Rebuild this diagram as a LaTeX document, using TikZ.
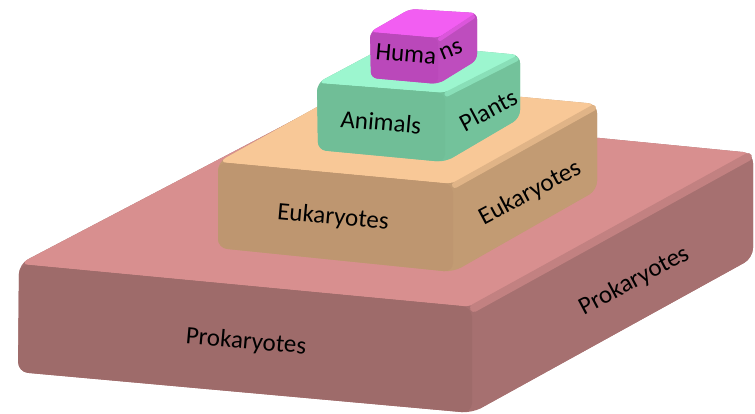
\documentclass[tikz,border=0pt]{standalone}
\usepackage{fontspec}
\setmainfont{Carlito}
\usepackage{xcolor}
\usepackage{tikz}

\definecolor{proFront}{HTML}{9E6B6A}
\definecolor{proTop}{HTML}{D88F8F}
\definecolor{proSide}{HTML}{A67070}
\definecolor{eukFront}{HTML}{BE9670}
\definecolor{eukTop}{HTML}{F8C897}
\definecolor{eukSide}{HTML}{C29B73}
\definecolor{aniFront}{HTML}{70BE97}
\definecolor{aniTop}{HTML}{9CF6CF}
\definecolor{aniSide}{HTML}{73C29B}
\definecolor{humFront}{HTML}{BA48BA}
\definecolor{humTop}{HTML}{F25EF2}
\definecolor{humSide}{HTML}{BE4DBE}

\begin{document}
\begin{tikzpicture}[x=1pt, y=-1pt,
    lbl/.style={font=\fontsize{25}{30}\selectfont, inner sep=0pt, text=black}]
            \useasboundingbox (0,0) rectangle (755,414);
            % Prokaryotes
            \fill[proSide, rounded corners=10pt] (18,372) -- (19,264) -- (313,110) -- (753,153) -- (753,258) -- (472,413) -- cycle;
            \fill[proTop, rounded corners=10pt] (19,264) -- (313,110) -- (753,153) -- (472,307) -- cycle;
            \fill[proSide, rounded corners=10pt] (472,307) -- (753,153) -- (753,258) -- (472,413) -- cycle;
            \draw[proTop!55!proSide, line width=8pt, line cap=round] (474,308) -- (748,157);
            \fill[proFront, rounded corners=10pt] (19,264) -- (472,307) -- (472,413) -- (18,372) -- cycle;
            \node[lbl, rotate=-5] (proFrontLbl) at (246,342) {Prokaryotes};
            \node[lbl, rotate=28] (proSideLbl) at (634,281) {Prokaryotes};
            % Eukaryotes
            \fill[eukSide, rounded corners=9pt] (218,248) -- (218,162) -- (362,82) -- (597,104) -- (597,190) -- (453,272) -- cycle;
            \fill[eukTop, rounded corners=9pt] (218,162) -- (362,82) -- (597,104) -- (453,184) -- cycle;
            \fill[eukSide, rounded corners=9pt] (453,184) -- (597,104) -- (597,190) -- (453,272) -- cycle;
            \draw[eukTop!55!eukSide, line width=6pt, line cap=round] (455,185) -- (593,108);
            \fill[eukFront, rounded corners=9pt] (218,162) -- (453,184) -- (453,272) -- (218,248) -- cycle;
            \node[lbl, rotate=-5] (eukFrontLbl) at (333,218) {Eukaryotes};
            \node[lbl, rotate=28] (eukSideLbl) at (530,193) {Eukaryotes};
            % Animals / Plants
            \fill[aniSide, rounded corners=8pt] (318,150) -- (317,83) -- (392,43) -- (520,55) -- (520,118) -- (445,162) -- cycle;
            \fill[aniTop, rounded corners=8pt] (317,83) -- (392,43) -- (520,55) -- (445,93) -- cycle;
            \fill[aniSide, rounded corners=8pt] (445,93) -- (520,55) -- (520,118) -- (445,162) -- cycle;
            \draw[aniTop!55!aniSide, line width=5pt, line cap=round] (447,94) -- (516,59);
            \fill[aniFront, rounded corners=8pt] (317,83) -- (445,93) -- (445,162) -- (318,150) -- cycle;
            \node[lbl, rotate=-5] (aniLbl) at (381,122) {Animals};
            \node[lbl, rotate=28] (plaLbl) at (488,110) {Plants};
            % Humans
            \fill[humSide, rounded corners=6pt] (371,78) -- (370,32) -- (410,9) -- (477,13) -- (477,60) -- (438,84) -- cycle;
            \fill[humTop, rounded corners=6pt] (370,32) -- (410,9) -- (477,13) -- (438,38) -- cycle;
            \fill[humSide, rounded corners=6pt] (438,38) -- (477,13) -- (477,60) -- (438,84) -- cycle;
            \draw[humTop!55!humSide, line width=4pt, line cap=round] (440,39) -- (473,17);
            \fill[humFront, rounded corners=6pt] (370,32) -- (438,38) -- (438,84) -- (371,78) -- cycle;
            \node[lbl, rotate=-5] (humLbl) at (406,54) {Huma};
            \node[lbl, rotate=22] (humSideLbl) at (451,51) {ns};
          \end{tikzpicture}
\end{document}
